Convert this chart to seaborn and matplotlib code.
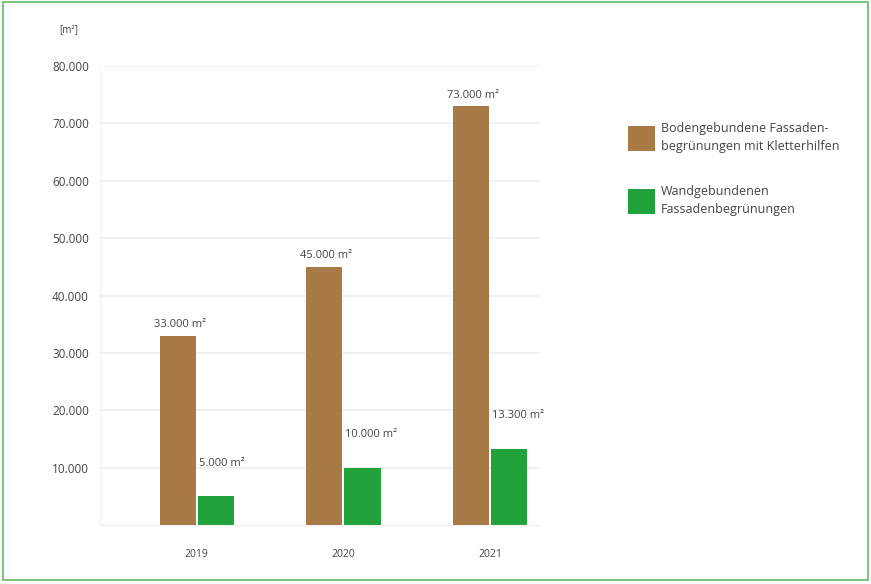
import matplotlib
matplotlib.use("Agg")
import matplotlib.pyplot as plt
import seaborn as sns
import pandas as pd
from matplotlib.patches import Rectangle, Patch

years = ["2019", "2020", "2021"]
series_names = ["Bodengebundene Fassaden-\nbegrünungen mit Kletterhilfen",
                "Wandgebundenen\nFassadenbegrünungen"]
boden = [33000, 45000, 73000]
wand = [5000, 10000, 13300]
yticks = [10000, 20000, 30000, 40000, 50000, 60000, 70000, 80000]
ytick_labels = ["10.000", "20.000", "30.000", "40.000", "50.000", "60.000", "70.000", "80.000"]
colors = ["#A87A45", "#22A23A"]

df = pd.DataFrame({
    "Jahr": years * 2,
    "Serie": [series_names[0]] * 3 + [series_names[1]] * 3,
    "Wert": boden + wand,
})

sns.set_style("white")
plt.rcParams["font.family"] = ["Open Sans", "DejaVu Sans"]
txt = "#444444"

fig = plt.figure(figsize=(8.71, 5.84), dpi=100)
ax = fig.add_axes([0.1148, 0.101, 0.505, 0.786])
sns.barplot(data=df, x="Jahr", y="Wert", hue="Serie", palette=colors,
            width=0.52, gap=0.05, ax=ax, legend=False, saturation=1,
            linewidth=0)

ax.set_xlim(-0.66, 2.34)
ax.set_ylim(0, 80000)
ax.set_yticks(yticks)
ax.set_yticklabels(ytick_labels)
ax.yaxis.grid(True, color="#EEEEEE", linewidth=1.2)
ax.set_axisbelow(True)
for s in ["top", "right"]:
    ax.spines[s].set_visible(False)
ax.spines["left"].set_color("#F0F0F0")
ax.spines["bottom"].set_color("#EEEEEE")
ax.set_xlabel("")
ax.set_ylabel("")
ax.tick_params(axis="y", labelsize=8.5, colors=txt, length=0, pad=8)
ax.tick_params(axis="x", labelsize=7.5, colors=txt, length=0, pad=17)

fig.text(78 / 871, 1 - 30 / 584, "[m²]", fontsize=7, color=txt, ha="right", va="center")

# annotations
for ci, cont in enumerate(ax.containers):
    for bar in cont:
        h = bar.get_height()
        lbl = f"{int(h):,}".replace(",", ".") + " m²"
        dx, dy = (-6, 11) if ci == 0 else (1, 33)
        ax.annotate(lbl, xy=(bar.get_x(), h), xytext=(dx, dy),
                    textcoords="offset pixels", fontsize=8, color=txt,
                    ha="left", va="center")

handles = [Patch(facecolor=c, edgecolor="none") for c in colors]
leg = ax.legend(handles, series_names, loc="upper left",
                bbox_to_anchor=(628 / 871, 1 - 122 / 584),
                bbox_transform=fig.transFigure, frameon=False, fontsize=9,
                labelcolor=txt, handlelength=2.15, handleheight=2.8,
                labelspacing=2.6, handletextpad=0.45, borderaxespad=0,
                borderpad=0)
for t in leg.get_texts():
    t.set_linespacing(1.45)

fig.patches.append(Rectangle((0.004, 0.006), 0.992, 0.99, transform=fig.transFigure,
                             fill=False, edgecolor="#7DC67F", linewidth=1.5))

fig.savefig("out.png", dpi=100)
